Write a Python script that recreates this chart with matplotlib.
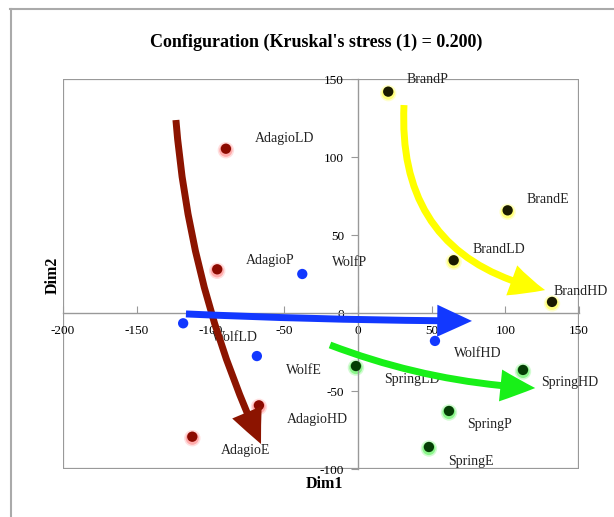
import matplotlib
matplotlib.use('Agg')
import matplotlib.pyplot as plt
import matplotlib.transforms as mtransforms
from matplotlib.patches import FancyArrowPatch, Rectangle
from matplotlib.lines import Line2D

plt.rcParams['font.family'] = ['Liberation Serif', 'DejaVu Serif']
plt.rcParams['axes.unicode_minus'] = False

# 数据
names = ['BrandP', 'BrandE', 'BrandLD', 'BrandHD',
         'AdagioLD', 'AdagioP', 'AdagioHD', 'AdagioE',
         'WolfP', 'WolfLD', 'WolfE', 'WolfHD',
         'SpringLD', 'SpringHD', 'SpringP', 'SpringE']
dim1 = [20.6, 101.6, 65.0, 131.7,
        -89.5, -95.4, -67.1, -112.3,
        -37.7, -118.5, -68.5, 52.3,
        -1.3, 112.0, 61.8, 48.2]
dim2 = [141.9, 65.8, 33.8, 7.1,
        105.3, 28.0, -59.2, -79.3,
        25.0, -6.6, -27.6, -17.9,
        -34.0, -36.5, -62.8, -85.9]
groups = ['Brand'] * 4 + ['Adagio'] * 4 + ['Wolf'] * 4 + ['Spring'] * 4

xticks = [-200, -150, -100, -50, 0, 50, 100, 150]
yticks = [-100, -50, 0, 50, 100, 150]

# 箭头 (起点, 终点)
arrow_groups = ['Adagio', 'Brand', 'Wolf', 'Spring']
arrow_start = [(-123.4, 123.7), (31.3, 133.3), (-116.6, -0.6), (-18.9, -20.5)]
arrow_end = [(-65.7, -84.0), (127.0, 14.7), (77.4, -5.1), (120.3, -48.1)]

# 样式
dot_color = {'Brand': '#1a1a00', 'Adagio': '#8c0a00', 'Wolf': '#1238ff', 'Spring': '#053d05'}
glow_color = {'Brand': '#ffff00', 'Adagio': '#ff6060', 'Wolf': '#8fa5ff', 'Spring': '#22ee22'}
arrow_color = {'Adagio': '#8c1400', 'Brand': '#ffff00', 'Wolf': '#1238ff', 'Spring': '#18f018'}
arrow_rad = {'Adagio': 0.09, 'Brand': 0.42, 'Wolf': 0.01, 'Spring': 0.08}
label_off = {'BrandP': (18, 12), 'BrandE': (19, 11), 'BrandLD': (19, 11), 'BrandHD': (2, 10),
             'AdagioLD': (29, 10), 'AdagioP': (29, 9), 'AdagioHD': (28, -14), 'AdagioE': (29, -14),
             'WolfP': (30, 11), 'WolfLD': (29, -14), 'WolfE': (29, -14), 'WolfHD': (19, -13),
             'SpringLD': (28, -13), 'SpringHD': (18, -13), 'SpringP': (18, -14), 'SpringE': (19, -14)}

fig = plt.figure(figsize=(6.14, 5.17), dpi=100)
ax = fig.add_axes([63 / 614, 1 - 469 / 517, 516 / 614, 390 / 517])
ax.set_xlim(-200, 150)
ax.set_ylim(-100, 150)

gray = '#999999'
ax.spines['left'].set_position(('data', 0))
ax.spines['bottom'].set_position(('data', 0))
ax.spines['top'].set_visible(False)
ax.spines['right'].set_visible(False)
for s in ['left', 'bottom']:
    ax.spines[s].set_color(gray)
    ax.spines[s].set_linewidth(1)
ax.add_patch(Rectangle((0, 0), 1, 1, transform=ax.transAxes, fill=False,
                       edgecolor=gray, linewidth=1.6, zorder=0.5))

ax.set_xticks(xticks)
ax.set_yticks(yticks)
ax.tick_params(axis='x', direction='in', length=5, color=gray, pad=9, labelsize=9.5)
ax.tick_params(axis='y', direction='out', length=5, color=gray, pad=5, labelsize=9.5)

glow_tr = mtransforms.offset_copy(ax.transData, fig=fig, x=0, y=-1.5, units='dots')
for g in ['Adagio', 'Brand', 'Wolf', 'Spring']:
    xs = [x for x, gg in zip(dim1, groups) if gg == g]
    ys = [y for y, gg in zip(dim2, groups) if gg == g]
    if g != 'Wolf':
        ax.scatter(xs, ys, s=140, color=glow_color[g], alpha=0.2, edgecolors='none',
                   transform=glow_tr, zorder=2)
        ax.scatter(xs, ys, s=90, color=glow_color[g], alpha=0.4, edgecolors='none',
                   transform=glow_tr, zorder=2)
    ax.scatter(xs, ys, s=55, color=dot_color[g], edgecolors='none', zorder=3)

for n, x, y in zip(names, dim1, dim2):
    dx, dy = label_off[n]
    ax.annotate(n, (x, y), xytext=(dx, dy), textcoords='offset pixels',
                ha='left', va='center', fontsize=10, color='#222222', zorder=4)

for g, p0, p1 in zip(arrow_groups, arrow_start, arrow_end):
    arr = FancyArrowPatch(p0, p1, connectionstyle='arc3,rad=%s' % arrow_rad[g],
                          arrowstyle='simple,head_length=0.5,head_width=0.46,tail_width=0.1',
                          mutation_scale=50, color=arrow_color[g], shrinkA=0, shrinkB=0,
                          linewidth=0, zorder=5)
    ax.add_patch(arr)

fig.text(316 / 614, 1 - 42 / 517, "Configuration (Kruskal's stress (1) = 0.200)",
         ha='center', va='center', fontsize=13, fontweight='bold')
fig.text(324 / 614, 1 - 484 / 517, 'Dim1', ha='center', va='center',
         fontsize=11.5, fontweight='bold')
fig.text(53 / 614, 1 - 275 / 517, 'Dim2', ha='center', va='center',
         fontsize=11.5, fontweight='bold', rotation=90)

# 外框
fig.add_artist(Line2D([10 / 614, 1], [1 - 8.5 / 517] * 2, color='#aaaaaa', linewidth=1.5))
fig.add_artist(Line2D([11 / 614] * 2, [0, 1 - 8.5 / 517], color='#aaaaaa', linewidth=1.5))

fig.savefig('out.png', dpi=100)
